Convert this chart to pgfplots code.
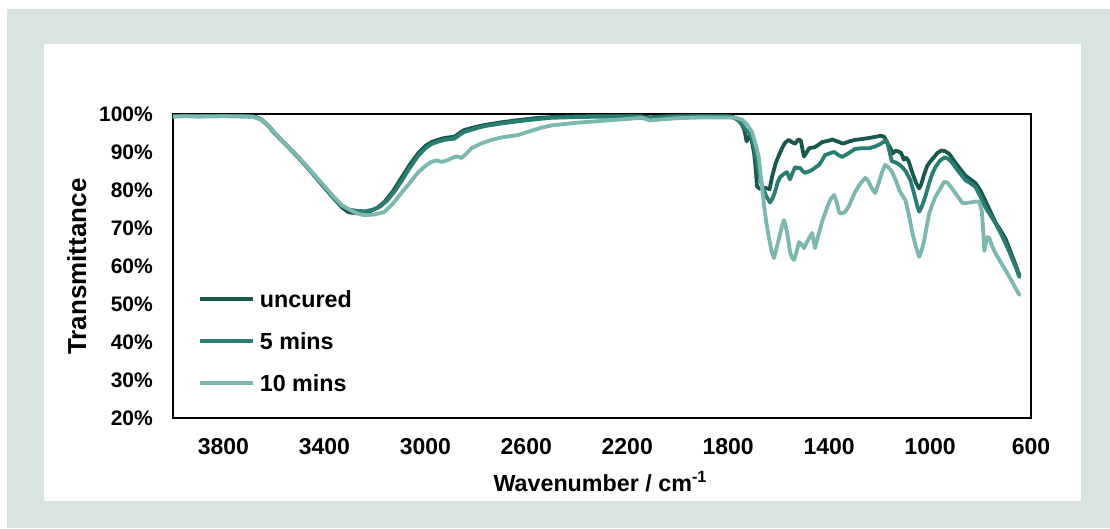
\documentclass[border=0pt]{standalone}
\usepackage{pgfplots}
\pgfplotsset{compat=1.18}
\usepackage{fontspec}
\setmainfont{Liberation Sans}
\definecolor{bgcol}{HTML}{DAE4DE}
\definecolor{cUn}{HTML}{17594C}
\definecolor{cFive}{HTML}{2A7D73}
\definecolor{cTen}{HTML}{7AB8B0}
\begin{document}
\begin{tikzpicture}[x=1pt,y=1pt]
\useasboundingbox (0,0) rectangle (1110,528);
\fill[bgcol] (7,0) rectangle (1110,519);
\fill[white] (44,27) rectangle (1081,484);
\begin{axis}[
  at={(173pt,110pt)}, anchor=south west,
  scale only axis, width=858pt, height=304pt,
  x dir=reverse, xmin=600, xmax=4000, ymin=20, ymax=100,
  xtick={600,1000,1400,1800,2200,2600,3000,3400,3800},
  xticklabels={600,1000,1400,1800,2200,2600,3000,3400,3800},
  ytick={20,30,40,50,60,70,80,90,100},
  yticklabels={20\%,30\%,40\%,50\%,60\%,70\%,80\%,90\%,100\%},
  major tick length=0pt,
  axis line style={line width=1.5pt, black},
  xticklabel style={font=\fontsize{23}{23}\selectfont\bfseries, anchor=center, yshift=-29pt, inner sep=0pt},
  yticklabel style={font=\fontsize{21}{21}\selectfont\bfseries, anchor=east, xshift=-20pt, inner sep=0pt},
  xlabel={Wavenumber / cm\textsuperscript{-1}},
  ylabel={Transmittance},
  xlabel style={font=\fontsize{23.3}{23.3}\selectfont\bfseries, at={(axis description cs:0.498,-0.21)}, anchor=center},
  ylabel style={font=\fontsize{26}{26}\selectfont\bfseries, at={(axis description cs:-0.112,0.498)}, anchor=center, rotate=0},
  legend cell align=left,
  legend image code/.code={\draw[#1, line cap=butt] (0pt,2pt) -- (53pt,2pt);},
  legend style={at={(axis description cs:0.029,0.418)}, anchor=north west, draw=none, fill=none,
    font=\fontsize{23.3}{23.3}\selectfont\bfseries, inner sep=0pt, row sep=22pt,
    nodes={inner sep=0pt, text height=16pt, text depth=4pt},
    /tikz/every odd column/.append style={column sep=5pt}},
  every axis plot/.append style={line width=3.8pt, line join=round, line cap=round},
]
\addplot[cUn] coordinates {(4000,99.5)(3950,99.6)(3900,99.6)(3800,99.7)(3720,99.6)(3680,99.4)(3650,98.6)(3620,96.8)(3600,95.2)(3550,91.8)(3500,88.4)(3450,84.6)(3400,80.6)(3360,77.6)(3330,75.4)(3306,74.2)(3280,73.9)(3250,74.0)(3220,74.4)(3190,75.3)(3163,76.8)(3130,79.5)(3095,83.2)(3060,86.8)(3028,89.7)(3000,91.6)(2976,92.6)(2950,93.2)(2924,93.7)(2900,93.9)(2885,94.0)(2860,95.2)(2845,95.8)(2800,96.6)(2766,97.1)(2700,97.8)(2631,98.4)(2550,99.0)(2500,99.2)(2400,99.4)(2300,99.5)(2150,99.5)(2110,99.1)(2080,99.3)(2000,99.6)(1900,99.6)(1800,99.5)(1780,99.2)(1760,98.4)(1745,97.2)(1735,95.5)(1727,92.8)(1720,93.8)(1713,94.4)(1705,92.5)(1697,89.5)(1690,85)(1686,81)(1675,80.3)(1660,80.6)(1645,80.4)(1636,80.2)(1626,83.5)(1612,87)(1598,89.3)(1585,91.2)(1575,92.4)(1560,93.2)(1548,92.6)(1535,92.2)(1522,93.3)(1512,93.0)(1500,88.8)(1490,89.8)(1479,91.0)(1456,91.3)(1440,92.0)(1428,92.6)(1400,93.0)(1388,93.3)(1360,92.6)(1345,92.2)(1320,92.8)(1297,93.2)(1270,93.4)(1241,93.7)(1215,94.0)(1195,94.3)(1182,94.0)(1170,92.5)(1158,91.1)(1148,89.6)(1138,90.3)(1128,90.2)(1115,89.8)(1104,88.0)(1095,88.5)(1085,87.6)(1070,84.5)(1055,81.8)(1043,80.4)(1035,81.5)(1025,83.8)(1011,86.4)(1000,87.4)(985,88.6)(970,89.8)(955,90.4)(940,90.2)(924,89.5)(910,88.2)(900,87.2)(880,85.5)(860,83.8)(840,82.8)(820,81.8)(800,79.8)(781,77.2)(760,74.2)(741,71.5)(720,69.3)(701,67.2)(685,64.4)(665,61)(646,57.6)};
\addlegendentry{uncured}
\addplot[cFive] coordinates {(4000,99.4)(3950,99.5)(3900,99.5)(3800,99.6)(3720,99.5)(3680,99.3)(3650,98.5)(3620,96.7)(3600,95.1)(3550,91.7)(3500,88.3)(3450,84.6)(3400,80.7)(3360,77.8)(3330,75.8)(3300,74.8)(3270,74.5)(3240,74.4)(3210,74.8)(3180,75.6)(3150,77.3)(3120,79.8)(3095,82.3)(3060,86.0)(3028,89.0)(3000,91.0)(2976,92.1)(2950,92.7)(2924,93.2)(2900,93.4)(2885,93.5)(2860,94.7)(2845,95.3)(2800,96.2)(2766,96.8)(2700,97.5)(2631,98.1)(2550,98.7)(2500,99.0)(2400,99.2)(2300,99.3)(2150,99.3)(2110,98.9)(2080,99.1)(2000,99.3)(1900,99.4)(1800,99.3)(1780,99.1)(1760,98.4)(1745,97.4)(1735,96.2)(1725,95.4)(1714,95.0)(1705,93.5)(1694,90.2)(1680,85)(1666,81.2)(1650,78.5)(1634,76.7)(1624,77.8)(1614,79.6)(1604,82)(1594,83.4)(1580,84.2)(1567,84.7)(1555,82.8)(1545,84.5)(1535,86.0)(1525,85.8)(1515,85.8)(1505,85.0)(1495,84.5)(1480,84.9)(1467,85.3)(1453,86.0)(1440,86.6)(1428,87.8)(1416,89.2)(1400,89.6)(1380,90.0)(1365,89.3)(1349,88.7)(1330,89.4)(1297,90.8)(1270,91.0)(1241,91.0)(1220,91.4)(1200,92.0)(1185,92.6)(1172,93.0)(1162,90.5)(1152,87.6)(1135,87.2)(1120,86.6)(1110,86.0)(1095,84.8)(1078,82.6)(1065,79.5)(1050,75.6)(1043,74.3)(1033,75.6)(1019,78.2)(1005,81.5)(991,84.3)(979,86.0)(960,87.8)(940,88.6)(924,88.0)(910,87.0)(900,86.0)(880,84.3)(860,82.6)(840,81.8)(820,80.8)(800,78.2)(781,75.5)(760,73.3)(741,71.3)(720,68.6)(701,66.0)(680,62.8)(660,59.6)(646,57.1)};
\addlegendentry{5 mins}
\addplot[cTen] coordinates {(4000,99.3)(3950,99.4)(3900,99.3)(3800,99.4)(3720,99.3)(3680,99.2)(3650,98.5)(3620,96.8)(3600,95.3)(3550,91.8)(3500,88.5)(3450,84.8)(3400,81.0)(3360,78.0)(3330,76.0)(3300,74.8)(3270,73.8)(3242,73.4)(3210,73.5)(3180,73.9)(3163,74.2)(3130,76.3)(3095,79.2)(3060,82.0)(3028,84.7)(3000,86.3)(2976,87.4)(2955,87.8)(2936,87.4)(2915,87.8)(2885,88.7)(2870,88.8)(2857,88.4)(2840,89.4)(2817,91.0)(2780,92.2)(2738,93.2)(2700,93.8)(2631,94.5)(2580,95.6)(2540,96.4)(2500,97.0)(2400,97.7)(2300,98.2)(2200,98.7)(2142,99.0)(2110,98.3)(2080,98.5)(2000,98.9)(1900,99.1)(1800,99.1)(1770,99.0)(1745,98.5)(1725,97.2)(1706,95.3)(1690,91.8)(1678,88.4)(1668,82)(1658,76.0)(1648,71)(1638,67.4)(1628,63.8)(1618,62.1)(1608,64.8)(1598,67.4)(1588,70.2)(1579,72.1)(1572,70.5)(1567,69.0)(1561,66.5)(1555,63.7)(1547,62.2)(1539,61.6)(1529,63.8)(1519,66.3)(1509,65.7)(1499,64.7)(1489,66.2)(1479,67.4)(1467,68.7)(1461,66.5)(1456,64.7)(1445,67.5)(1428,71.6)(1414,74.3)(1400,76.8)(1390,78.0)(1380,78.7)(1370,76.8)(1360,74.0)(1350,73.8)(1337,74.2)(1320,76.0)(1297,79.5)(1275,81.8)(1257,83.2)(1247,82.6)(1237,81.3)(1227,80.0)(1217,79.2)(1205,81.6)(1190,84.7)(1178,86.6)(1165,86.0)(1150,84.7)(1135,82.4)(1122,80.0)(1110,78.6)(1098,77.4)(1085,73.8)(1070,68.7)(1055,64.8)(1043,62.4)(1033,64.2)(1023,66.8)(1013,70.5)(1003,73.9)(991,76.2)(979,78.2)(960,80.3)(945,82.1)(932,82.0)(915,80.6)(900,79.2)(885,77.8)(872,76.6)(855,76.6)(832,76.8)(815,77.0)(805,76.8)(795,74.5)(790,70)(785,64.0)(779,66.0)(773,67.6)(765,67.4)(755,65.4)(741,63.4)(720,61.0)(701,58.9)(680,56.5)(660,54.0)(646,52.4)};
\addlegendentry{10 mins}
\end{axis}
\end{tikzpicture}
\end{document}
